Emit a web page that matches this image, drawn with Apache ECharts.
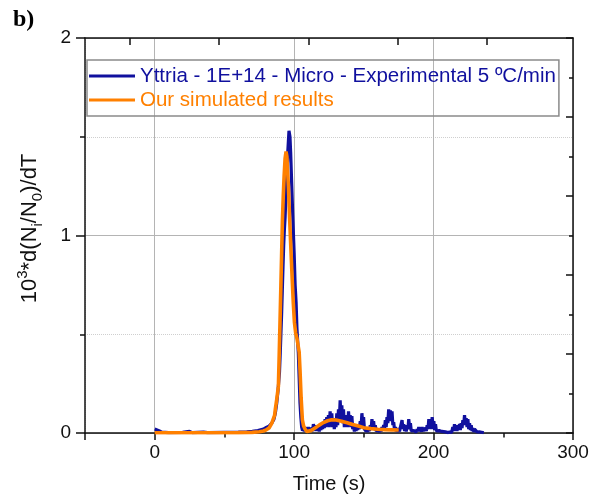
<!DOCTYPE html>
<html>
<head>
<meta charset="utf-8">
<script src="https://cdn.jsdelivr.net/npm/echarts@6.0.0/dist/echarts.min.js"></script>
<style>
  html, body { margin: 0; padding: 0; background: #fff; }
  #chart { width: 604px; height: 503px; }
</style>
</head>
<body>
<div id="chart"></div>
<script>
// experimental curve [time (s), value] (Yttria - 1E+14 - Micro, 5 ºC/min)
const expPoints = [
  [0, 0.02], [1, 0.025], [3, 0.012], [5, 0.004], [10, 0.002], [20, 0.003], [25, 0.008], [27, 0.002],
  [35, 0.004], [36, 0.009], [38, 0.002], [50, 0.003], [51, 0.012], [52, 0.003], [60, 0.004], [66, 0.006],
  [70, 0.008], [74, 0.012], [78, 0.02], [80, 0.028], [82, 0.035], [84, 0.05], [85.5, 0.07], [86.5, 0.1],
  [87.5, 0.15], [88.5, 0.22], [89.5, 0.31], [90, 0.4], [90.5, 0.5], [91, 0.6], [91.5, 0.72], [92, 0.84],
  [92.5, 0.95], [93, 1.03], [93.5, 1.09], [94, 1.18], [95, 1.33], [95.5, 1.43], [96.3, 1.53], [97, 1.5],
  [97.5, 1.42], [98.3, 1.25], [99, 1.1], [100, 0.91], [100.7, 0.75], [101.4, 0.66], [102, 0.53], [103, 0.405],
  [103.6, 0.28], [104.2, 0.152], [104.8, 0.08], [105.4, 0.03],
  [106, 0.012], [106.6, 0.025], [107.2, 0.008], [107.8, 0.03], [108.4, 0.01], [109, 0.028], [109.6, 0.012], [110.2, 0.03],
  [110.8, 0.008], [111.4, 0.025], [112, 0.015], [112.6, 0.035], [113.2, 0.01], [113.8, 0.045], [114.4, 0.02], [115, 0.04],
  [115.6, 0.01], [116.2, 0.03], [116.8, 0.012], [117.4, 0.025], [118, 0.008], [118.6, 0.03], [119.2, 0.015], [119.8, 0.05],
  [120.4, 0.02], [121, 0.055], [121.6, 0.025], [122.2, 0.07], [122.8, 0.03], [123.4, 0.08], [124, 0.04], [124.6, 0.09],
  [125.2, 0.03], [125.8, 0.11], [126.4, 0.05], [127, 0.1], [127.6, 0.03], [128.2, 0.075], [128.8, 0.02], [129.4, 0.06],
  [130, 0.03], [130.6, 0.1], [131.2, 0.04], [131.8, 0.12], [132.4, 0.06], [133, 0.165], [133.6, 0.08], [134.2, 0.14],
  [134.8, 0.05], [135.4, 0.12], [136, 0.03], [136.6, 0.09], [137.2, 0.04], [137.8, 0.08], [138.4, 0.03], [139, 0.11],
  [139.6, 0.05], [140.2, 0.09], [140.8, 0.03], [141.4, 0.085], [142, 0.02], [142.6, 0.035], [143.2, 0.008], [143.8, 0.03],
  [144.4, 0.01], [145, 0.035], [145.6, 0.015], [146.2, 0.04], [146.8, 0.02], [147.4, 0.06], [148, 0.03], [148.6, 0.1],
  [149.2, 0.05], [149.8, 0.08], [150.4, 0.02], [151, 0.03], [151.6, 0.008], [152.2, 0.02], [152.8, 0.005], [153.4, 0.025],
  [154, 0.01], [154.6, 0.04], [155.2, 0.02], [155.8, 0.07], [156.4, 0.03], [157, 0.06], [157.6, 0.015], [158.2, 0.04],
  [158.8, 0.01], [159.4, 0.02], [160, 0.005], [160.6, 0.015], [161.2, 0.004], [161.8, 0.02], [162.4, 0.008], [163, 0.03],
  [163.6, 0.012], [164.2, 0.04], [164.8, 0.02], [165.4, 0.065], [166, 0.03], [166.6, 0.08], [167.2, 0.05], [167.8, 0.12],
  [168.4, 0.07], [169, 0.115], [169.6, 0.06], [170.2, 0.11], [170.8, 0.04], [171.4, 0.055], [172, 0.015], [172.6, 0.03],
  [173.2, 0.008], [173.8, 0.025], [174.4, 0.005], [175, 0.02], [175.6, 0.008], [176.2, 0.03], [176.8, 0.02], [177.4, 0.065],
  [178, 0.02], [178.6, 0.045], [179.2, 0.01], [179.8, 0.03], [180.4, 0.008], [181, 0.04], [181.6, 0.02], [182.2, 0.07],
  [182.8, 0.03], [183.4, 0.05], [184, 0.01], [184.6, 0.02], [185.2, 0.004], [185.8, 0.013], [186.4, 0.003], [187, 0.012],
  [187.6, 0.004], [188.2, 0.02], [188.8, 0.008], [189.4, 0.03], [190, 0.01], [190.6, 0.025], [191.2, 0.006], [191.8, 0.03],
  [192.4, 0.01], [193, 0.02], [193.6, 0.005], [194.2, 0.025], [194.8, 0.01], [195.4, 0.04], [196, 0.02], [196.6, 0.07],
  [197.2, 0.03], [197.8, 0.05], [198.4, 0.02], [199, 0.08], [199.6, 0.04], [200.2, 0.06], [200.8, 0.015], [201.4, 0.045],
  [202, 0.01], [202.6, 0.02], [203.2, 0.004], [204, 0.012], [205, 0.003], [206, 0.008], [207, 0.002], [208.5, 0.006],
  [210, 0.002], [211.5, 0.005], [213, 0.003], [213.8, 0.03], [214.4, 0.01], [215, 0.045], [215.6, 0.015], [216.2, 0.03],
  [216.8, 0.01], [217.4, 0.04], [218, 0.02], [218.6, 0.045], [219.2, 0.015], [219.8, 0.05], [220.4, 0.025], [221, 0.065],
  [221.6, 0.04], [222.2, 0.09], [222.8, 0.05], [223.4, 0.075], [224, 0.03], [224.6, 0.07], [225.2, 0.02], [225.8, 0.05],
  [226.4, 0.015], [227, 0.04], [227.6, 0.01], [228.2, 0.025], [228.8, 0.005], [229.4, 0.02], [230, 0.01], [230.6, 0.03],
  [231.2, 0.005], [232, 0.004], [232.8, 0.006], [233.6, 0.002], [234.4, 0.004], [235.2, 0.012], [236, 0.001]
];

// simulated curve
const simTime = [
  0, 20, 40, 60, 70, 75, 78, 80, 82, 83, 84, 85, 86, 86.5, 87.5, 88.7, 89.3, 89.9, 90.5, 91,
  91.6, 92.2, 92.8, 93.5, 94.2, 94.8, 95.3, 95.9, 96.8, 97.8, 98.6, 99.4, 100.2, 101.1, 102, 103,
  103.6, 104.2, 105, 105.9, 106.8, 107.8, 109, 110, 112, 115, 118, 121, 124, 127, 130, 134,
  138, 142, 146, 150, 155, 160, 165, 170, 175
];
const simValue = [
  0.001, 0.001, 0.001, 0.002, 0.003, 0.006, 0.01, 0.016, 0.025, 0.035, 0.05, 0.07, 0.09, 0.12, 0.17, 0.236, 0.4, 0.573, 0.75, 0.9,
  1.08, 1.2, 1.3, 1.39, 1.425, 1.4, 1.33, 1.248, 1.08, 0.91, 0.78, 0.658, 0.56, 0.506, 0.48, 0.47,
  0.41, 0.32, 0.18, 0.067, 0.035, 0.02, 0.008, 0.006, 0.012, 0.025, 0.04, 0.053, 0.062, 0.067, 0.066, 0.06,
  0.052, 0.043, 0.035, 0.027, 0.022, 0.019, 0.017, 0.016, 0.015
];

const xLabelValues = [0, 100, 200, 300];
const xMajorTicks = [-50, 0, 100, 200, 300];
const xMinorTicks = [50, 150, 250];
const topTicks = [-18.2, 46, 110.2, 174.3, 238.4];

const expName = 'Yttria - 1E+14 - Micro - Experimental 5 ºC/min';
const simName = 'Our simulated results';
const expColor = '#10109e';
const simColor = '#ff8000';

const font = 'Liberation Sans, Arial, sans-serif';
const frame = { show: true, onZero: false, lineStyle: { color: '#111', width: 1.5 } };
const noLine = { show: false, onZero: false };

const chart = echarts.init(document.getElementById('chart'));

chart.setOption({
  animation: false,
  backgroundColor: '#fff',
  textStyle: { fontFamily: font },
  graphic: [{
    type: 'text', left: 13, top: 8,
    style: { text: 'b)', font: 'bold 24px "Liberation Serif", "Times New Roman", serif', fill: '#000' }
  }],
  legend: {
    orient: 'vertical',
    left: 87, top: 60,
    padding: [5, 3, 5, 2],
    itemGap: 2,
    itemWidth: 46, itemHeight: 3,
    icon: 'rect',
    borderColor: '#8a8a8a', borderWidth: 1.5,
    textStyle: { fontSize: 20.5, lineHeight: 22, fontFamily: font },
    data: [
      { name: expName, textStyle: { color: expColor } },
      { name: simName, textStyle: { color: simColor } }
    ]
  },
  grid: [
    { left: 85, top: 38, width: 488, height: 395 },
    { left: 154.71, top: 38, width: 418.29, height: 395 }
  ],
  xAxis: [
    {
      type: 'value', gridIndex: 0, position: 'bottom',
      min: -50, max: 300, interval: 50,
      name: 'Time (s)', nameLocation: 'middle', nameGap: 41,
      nameTextStyle: { fontSize: 20, color: '#111', fontFamily: font },
      axisLine: frame,
      axisTick: { show: true, length: 7, customValues: xMajorTicks, lineStyle: { color: '#111', width: 1.5 } },
      axisLabel: { customValues: xLabelValues, fontSize: 19, color: '#111', margin: 10 },
      splitLine: { show: true, lineStyle: { color: '#cfcfcf', type: 'dotted', width: 1 } }
    },
    {
      type: 'value', gridIndex: 0, position: 'bottom',
      min: -50, max: 300, interval: 50,
      axisLine: noLine,
      axisTick: { show: true, length: 4.5, customValues: xMinorTicks, lineStyle: { color: '#111', width: 1.5 } },
      axisLabel: { show: false },
      splitLine: { show: false }
    },
    {
      type: 'value', gridIndex: 0, position: 'top',
      min: -50, max: 300, interval: 50,
      axisLine: frame,
      axisTick: { show: true, inside: true, length: 7, customValues: topTicks, lineStyle: { color: '#111', width: 1.5 } },
      axisLabel: { show: false },
      splitLine: { show: false }
    },
    {
      type: 'value', gridIndex: 1, position: 'bottom',
      min: 0, max: 300, interval: 100,
      axisLine: noLine, axisTick: { show: false }, axisLabel: { show: false },
      splitLine: { show: true, lineStyle: { color: '#b4b4b4', width: 1 } }
    }
  ],
  yAxis: [
    {
      type: 'value', gridIndex: 0, position: 'left',
      min: 0, max: 2, interval: 1,
      name: '{a|10}{sup|3}{a|*d(N}{sub|i}{a|/N}{sub|0}{a|)/dT}',
      nameLocation: 'middle', nameGap: 40,
      nameTextStyle: {
        color: '#111',
        padding: [0, 0, 0, 14],
        rich: {
          a: { fontSize: 22, fontFamily: font, color: '#111', verticalAlign: 'bottom', padding: [0, 0, 4, 0] },
          sup: { fontSize: 15, fontFamily: font, color: '#111', verticalAlign: 'bottom', padding: [0, 0, 15, 0] },
          sub: { fontSize: 15, fontFamily: font, color: '#111', verticalAlign: 'bottom', padding: [0, 0, 0, 0] }
        }
      },
      axisLine: frame,
      axisTick: { show: true, length: 9, lineStyle: { color: '#111', width: 1.5 } },
      minorTick: { show: true, splitNumber: 2, length: 5, lineStyle: { color: '#111', width: 1.5 } },
      axisLabel: { fontSize: 19, color: '#111', margin: 14 },
      splitLine: { show: true, lineStyle: { color: '#b4b4b4', width: 1 } },
      minorSplitLine: { show: true, lineStyle: { color: '#cfcfcf', type: 'dotted', width: 1 } }
    },
    {
      type: 'value', gridIndex: 0, position: 'right',
      min: 0, max: 2, interval: 0.4,
      axisLine: frame,
      axisTick: { show: true, inside: true, length: 7, lineStyle: { color: '#111', width: 1.5 } },
      minorTick: { show: true, splitNumber: 2, length: 4, lineStyle: { color: '#111', width: 1.5 } },
      axisLabel: { show: false },
      splitLine: { show: false }
    },
    { type: 'value', gridIndex: 1, min: 0, max: 2, show: false }
  ],
  series: [
    {
      name: expName, type: 'line', xAxisIndex: 0, yAxisIndex: 0,
      data: expPoints,
      showSymbol: false, color: expColor,
      lineStyle: { width: 3.2, color: expColor }, z: 3
    },
    {
      name: simName, type: 'line', xAxisIndex: 0, yAxisIndex: 0,
      data: simTime.map((t, i) => [t, simValue[i]]),
      showSymbol: false, color: simColor,
      lineStyle: { width: 3.6, color: simColor }, z: 4
    }
  ]
});
</script>
</body>
</html>
